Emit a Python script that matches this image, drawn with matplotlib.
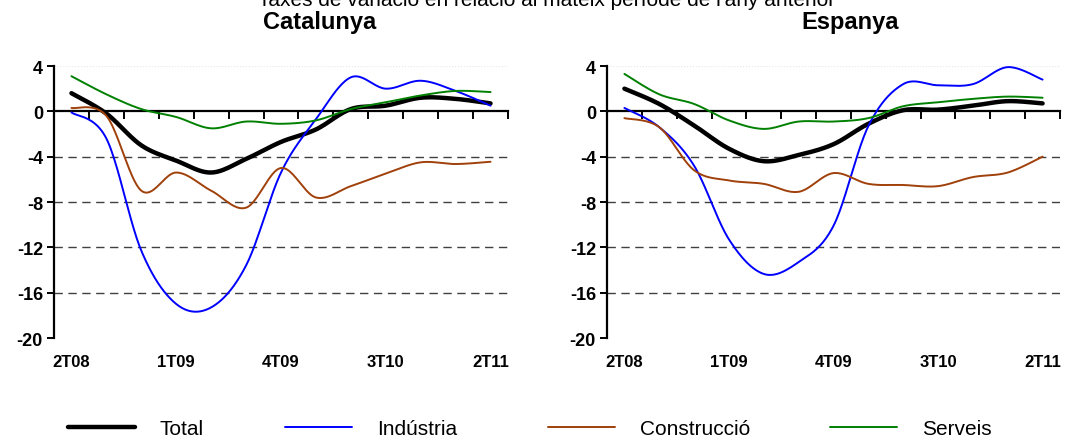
import numpy as np
from matplotlib import pyplot as plt
import matplotlib.transforms as transforms

plt.rcParams['font.family'] = ['Liberation Sans', 'DejaVu Sans']

quarters = ['2T08', '3T08', '4T08', '1T09', '2T09', '3T09', '4T09',
            '1T10', '2T10', '3T10', '4T10', '1T11', '2T11']
shown_labels = ['2T08', '1T09', '4T09', '3T10', '2T11']

# Catalunya
cat_total = [1.6, -0.2, -3.0, -4.35, -5.4, -4.2, -2.7, -1.6, 0.2, 0.5, 1.2, 1.1, 0.7]
cat_ind = [-0.1, -2.4, -12.3, -17.0, -17.3, -13.6, -5.4, -0.7, 3.0, 2.0, 2.7, 1.8, 0.5]
cat_cons = [0.3, -0.4, -7.0, -5.4, -7.0, -8.5, -5.0, -7.6, -6.6, -5.5, -4.5, -4.65, -4.45]
cat_serv = [3.1, 1.5, 0.2, -0.5, -1.5, -0.9, -1.1, -0.8, 0.2, 0.8, 1.4, 1.8, 1.7]

# Espanya
esp_total = [2.0, 0.65, -1.25, -3.3, -4.4, -3.85, -2.9, -1.1, 0.1, 0.15, 0.5, 0.9, 0.7]
esp_ind = [0.3, -1.4, -4.8, -11.3, -14.35, -13.3, -10.1, -1.3, 2.4, 2.3, 2.4, 3.9, 2.8]
esp_cons = [-0.6, -1.4, -5.2, -6.1, -6.4, -7.1, -5.45, -6.4, -6.5, -6.6, -5.8, -5.4, -4.0]
esp_serv = [3.3, 1.5, 0.65, -0.8, -1.55, -0.9, -0.9, -0.6, 0.45, 0.8, 1.1, 1.3, 1.2]

series_names = ['Total', 'Indústria', 'Construcció', 'Serveis']
colors = ['black', '#0000ff', '#a0400a', '#008000']
widths = [3.2, 1.4, 1.4, 1.4]


def smooth(y, n=24):
    # excel-like smoothed line (bezier through the points)
    y = np.asarray(y, float)
    x = np.arange(len(y), dtype=float)
    px = np.concatenate([[x[0]], x, [x[-1]]])
    py = np.concatenate([[y[0]], y, [y[-1]]])
    xs, ys = [], []
    t = np.linspace(0, 1, n)
    for i in range(1, len(px) - 2):
        x0, x1, x2, x3 = px[i-1:i+3]
        y0, y1, y2, y3 = py[i-1:i+3]
        bx1 = x1 + (x2 - x0) / 6
        by1 = y1 + (y2 - y0) / 6
        bx2 = x2 - (x3 - x1) / 6
        by2 = y2 - (y3 - y1) / 6
        bx = (1-t)**3*x1 + 3*(1-t)**2*t*bx1 + 3*(1-t)*t**2*bx2 + t**3*x2
        by = (1-t)**3*y1 + 3*(1-t)**2*t*by1 + 3*(1-t)*t**2*by2 + t**3*y2
        xs.append(bx)
        ys.append(by)
    return np.concatenate(xs), np.concatenate(ys)


fig = plt.figure(figsize=(10.79, 4.39), dpi=100)
W, H = 1079, 439
ax1 = fig.add_axes([54/W, 1-339/H, 454/W, 272/H])
ax2 = fig.add_axes([607/W, 1-339/H, 453/W, 272/H])

handles = []
for ax, data, title, tx in [(ax1, [cat_total, cat_ind, cat_cons, cat_serv], 'Catalunya', 320),
                            (ax2, [esp_total, esp_ind, esp_cons, esp_serv], 'Espanya', 850)]:
    for yv in [-4, -8, -12, -16]:
        ax.axhline(yv, color='#404040', lw=1, ls=(0, (6, 4)), zorder=1)
    ax.axhline(4, color='#e6e6e6', lw=0.8, ls=':', zorder=1)
    hs = []
    for vals, name, c, lw in zip(data, series_names, colors, widths):
        sx, sy = smooth(vals)
        h, = ax.plot(sx, sy, color=c, lw=lw, label=name, zorder=3,
                     solid_capstyle='round')
        hs.append(h)
    handles = hs
    ax.set_xlim(-0.5, len(quarters) - 0.5)
    ax.set_ylim(-20, 4)
    ax.set_yticks(np.arange(-20, 5, 4))
    ax.set_yticklabels([str(v) for v in np.arange(-20, 5, 4)],
                       fontsize=13, fontweight='bold')
    ax.set_xticks(np.arange(len(quarters)) + 0.5)
    ax.set_xticklabels([])
    ax.spines['top'].set_visible(False)
    ax.spines['right'].set_visible(False)
    ax.spines['bottom'].set_position(('data', 0))
    ax.spines['bottom'].set_linewidth(1.6)
    ax.spines['bottom'].set_zorder(2)
    ax.spines['left'].set_linewidth(1.6)
    ax.tick_params(axis='x', direction='out', length=6, width=1.4)
    ax.tick_params(axis='y', direction='out', length=5, width=1.4, pad=3)
    trans = transforms.blended_transform_factory(ax.transData, ax.transAxes)
    for lab in shown_labels:
        ax.text(quarters.index(lab), -0.085, lab, transform=trans,
                ha='center', va='center', fontsize=12, fontweight='bold')
    fig.text(tx/W, 1-23/H, title, ha='center', va='center',
             fontsize=17, fontweight='bold')

fig.text(547/W, 1-6/H, "Taxes de variació en relació al mateix període de l'any anterior",
         ha='center', va='baseline', fontsize=15)

leg_x = [68, 285, 548, 830]
for h, x0 in zip(handles, leg_x):
    fig.legend(handles=[h], loc='center left', bbox_to_anchor=(x0/W, 1-430/H),
               frameon=False, fontsize=15, handlelength=3.2, handletextpad=1.2,
               borderpad=0, borderaxespad=0)

plt.savefig('out.png', dpi=100)
